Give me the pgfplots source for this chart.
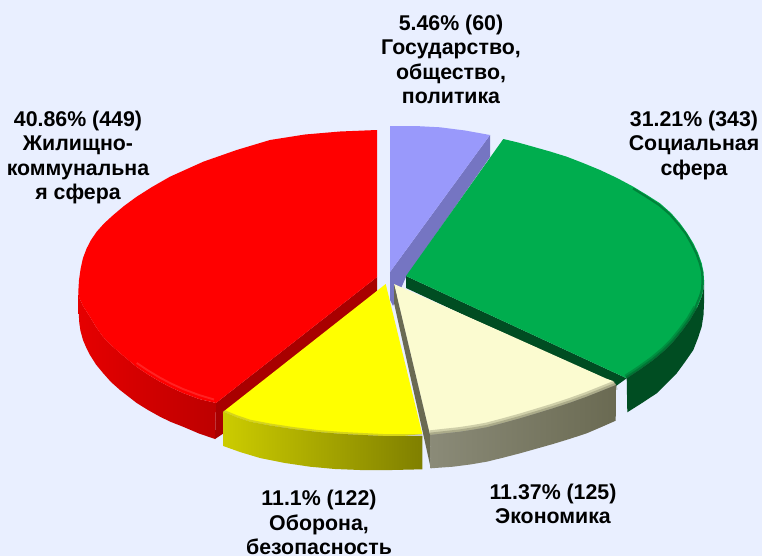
\documentclass[border=0pt]{standalone}
\usepackage{fontspec}
\setmainfont{Liberation Sans}
\usepackage{pgfplots}
\pgfplotsset{compat=1.18}
\definecolor{bg}{HTML}{E9EFFF}
\definecolor{purpletop}{HTML}{9999FB}
\definecolor{purplewall}{HTML}{7575C2}
\definecolor{greentop}{HTML}{00AD4E}
\definecolor{greenside}{HTML}{004D22}
\definecolor{redtop}{HTML}{FF0000}
\definecolor{redwall}{HTML}{A80000}
\definecolor{yellowtop}{HTML}{FFFF00}
\definecolor{creamtop}{HTML}{FBFBD0}
\definecolor{creamwall}{HTML}{6A6A52}
\tikzset{lab/.style={font=\bfseries\fontsize{16}{18.3}\selectfont,align=center,anchor=north,inner sep=0pt,text=black}}
\begin{document}
\begin{tikzpicture}
\begin{axis}[
    width=571.5pt, height=417pt, scale only axis,
    xmin=0, xmax=762, ymin=0, ymax=556, y dir=reverse,
    axis line style={draw=none}, ticks=none,
    axis background/.style={fill=bg},
    no markers, clip=false
]
% Государство
\addplot[draw=none,fill=purplewall] coordinates {(390,272) (490,135) (490,157) (406,277) (393,306) (390,300)} -- cycle;
\addplot[draw=none,fill=purpletop] coordinates {(390,126) (415,126) (440,127.3) (465,130.5) (490,135) (390,272)} -- cycle;
% Социальная сфера
\addplot[draw=none,fill=greenside] coordinates {(406,276) (406,288) (616,386) (626.7,378.3)} -- cycle;
\addplot[draw=none,fill=greentop] coordinates {(406,276) (503.3,139) (518,142.5) (533,146.7) (550,151.5) (566.7,156.7) (583,163) (600,170) (617,178) (633.3,186.7) (647,195) (660,203.3) (671,213) (680,223.3) (687,233) (693.3,243.3) (698,253) (701.7,263.3) (703.5,272) (704,280) (703.5,289) (701.7,296.7) (697,308) (690,320) (682,331) (673.3,341.7) (664,351) (653.3,360) (640,369.5) (626.7,378.3)} -- cycle;
\addplot[greenside,opacity=0.45,line width=1.5pt] coordinates {(633,188.5) (646,196.5) (659,205) (670,214.5) (678.5,224.5) (686,234) (691.5,244) (696.5,254) (700,264) (702,272) (702.5,280) (702,289) (700,296) (695.5,307)};
\addplot[greenside,opacity=0.3,line width=6pt] coordinates {(697,308) (690,320) (682,331) (673.3,341.7) (664,351) (653.3,360) (640,369.5) (626.7,378.3)};
\addplot[greenside,opacity=0.4,line width=3pt] coordinates {(697,308) (690,320) (682,331) (673.3,341.7) (664,351) (653.3,360) (640,369.5) (626.7,378.3)};
\addplot[draw=none,fill=greenside] coordinates {(704,280) (703.5,289) (701.7,296.7) (697,308) (690,320) (682,331) (673.3,341.7) (664,351) (653.3,360) (640,369.5) (626.7,378.3) (627.3,412.3) (642,403) (656.7,393.3) (667,383) (676.7,373.3) (685,362) (693.3,350) (698,338) (701.7,326.7) (703.5,315) (704,303)} -- cycle;
% Жилищно-коммунальная сфера
\addplot[draw=none,fill=redwall] coordinates {(377,277) (377,292) (224,412) (224,433) (215,439) (216,403)} -- cycle;
\addplot[draw=none,left color=red!90!black,right color=red!74!black] coordinates {(78.3,291.7) (79,297) (83,306) (90,316.7) (96,327) (103,336.7) (111,345) (120,353) (136.7,367) (148,374.5) (160,381.7) (171,387.5) (183,393) (199,399) (216,403) (215,439) (199,433.5) (183,426.7) (171,422) (160,416.7) (148,410) (136.7,403) (120,390) (111,382) (103,373) (96,364.5) (90,355) (86,347) (83,340) (80.5,331) (79.3,323) (78.7,313) (78.3,297)} -- cycle;
\addplot[draw=none,fill=redtop] coordinates {(377,130) (340,131.5) (305,134.5) (270,140) (236.7,150) (203.3,161.7) (170,176.7) (152,187) (136.7,196.7) (124,206) (113.3,215) (104,223.5) (96.7,231.7) (91,240) (86.7,248.3) (83,258) (80.7,268.3) (79,280) (78.3,291.7) (79,297) (83,306) (90,316.7) (96,327) (103,336.7) (111,345) (120,353) (136.7,367) (148,374.5) (160,381.7) (171,387.5) (183,393) (199,399) (216,403) (377,277)} -- cycle;
\addplot[red!70!white,opacity=0.45,line width=1.4pt] coordinates {(136.7,363) (148,370.5) (160,377.7) (171,383.5) (183,389) (199,395) (214,399.5)};
% Оборона, безопасность
\addplot[draw=none,fill=yellowtop] coordinates {(385.7,284) (223.3,411.7) (236,417) (250,421.7) (270,425.5) (293,429) (318,432) (343,434) (363,435) (383,436) (403,436) (422.3,434)} -- cycle;
\addplot[yellow!50!black,opacity=0.35,line width=3pt] coordinates {(223.3,411.7) (236,417) (250,421.7) (270,425.5) (293,429) (318,432) (343,434) (363,435) (383,436) (403,436) (422.3,436)};
\addplot[draw=none,left color=yellow!80!black,right color=yellow!50!black] coordinates {(223.3,411.7) (236,417) (250,421.7) (270,425.5) (293,429) (318,432) (343,434) (363,435) (383,436) (403,436) (422.3,436) (422.3,469.3) (392,470) (360,470) (335,469) (310,466.7) (285,463) (260,458) (240,452) (223.3,446)} -- cycle;
% Экономика
\addplot[draw=none,fill=creamtop] coordinates {(394,284) (500,331) (587,370) (606,378.5) (613,381) (616,385) (601,391) (586.7,396.7) (570,402.7) (553,408.3) (536,413.5) (520,418.3) (503,423) (486.7,427.3) (473,429.7) (460,431.7) (430,435)} -- cycle;
\addplot[creamwall,opacity=0.3,line width=7pt] coordinates {(430,435) (460,431.7) (473,429.7) (486.7,427.3) (503,423) (520,418.3) (536,413.5) (553,408.3) (570,402.7) (586.7,396.7) (601,391) (616,385)};
\addplot[creamwall,opacity=0.35,line width=3.5pt] coordinates {(430,435) (460,431.7) (473,429.7) (486.7,427.3) (503,423) (520,418.3) (536,413.5) (553,408.3) (570,402.7) (586.7,396.7) (601,391) (616,385)};
\addplot[draw=none,fill=creamwall] coordinates {(394,284) (394,303) (430.7,468) (430,435)} -- cycle;
\addplot[draw=none,left color=creamwall!78!white,middle color=creamwall,right color=creamwall] coordinates {(430,435) (460,431.7) (473,429.7) (486.7,427.3) (503,423) (520,418.3) (536,413.5) (553,408.3) (570,402.7) (586.7,396.7) (601,391) (616,385) (615.7,420.7) (601,427.2) (586.7,433.3) (570,438.8) (553,444) (536,448.8) (520,453.3) (503,457.7) (486.7,461.7) (470,464.5) (453,466.7) (430.7,468.3)} -- cycle;
% подписи
\node[lab] at (axis cs:451,14.5) {5.46\% (60)\\Государство,\\общество,\\политика};
\node[lab] at (axis cs:78,110.5) {40.86\% (449)\\Жилищно-\\коммунальна\\я сфера};
\node[lab] at (axis cs:694,110.5) {31.21\% (343)\\Социальная\\сфера};
\node[lab] at (axis cs:553,483.5) {11.37\% (125)\\Экономика};
\node[lab] at (axis cs:319,490) {11.1\% (122)\\Оборона,\\безопасность};
\end{axis}
\end{tikzpicture}
\end{document}
